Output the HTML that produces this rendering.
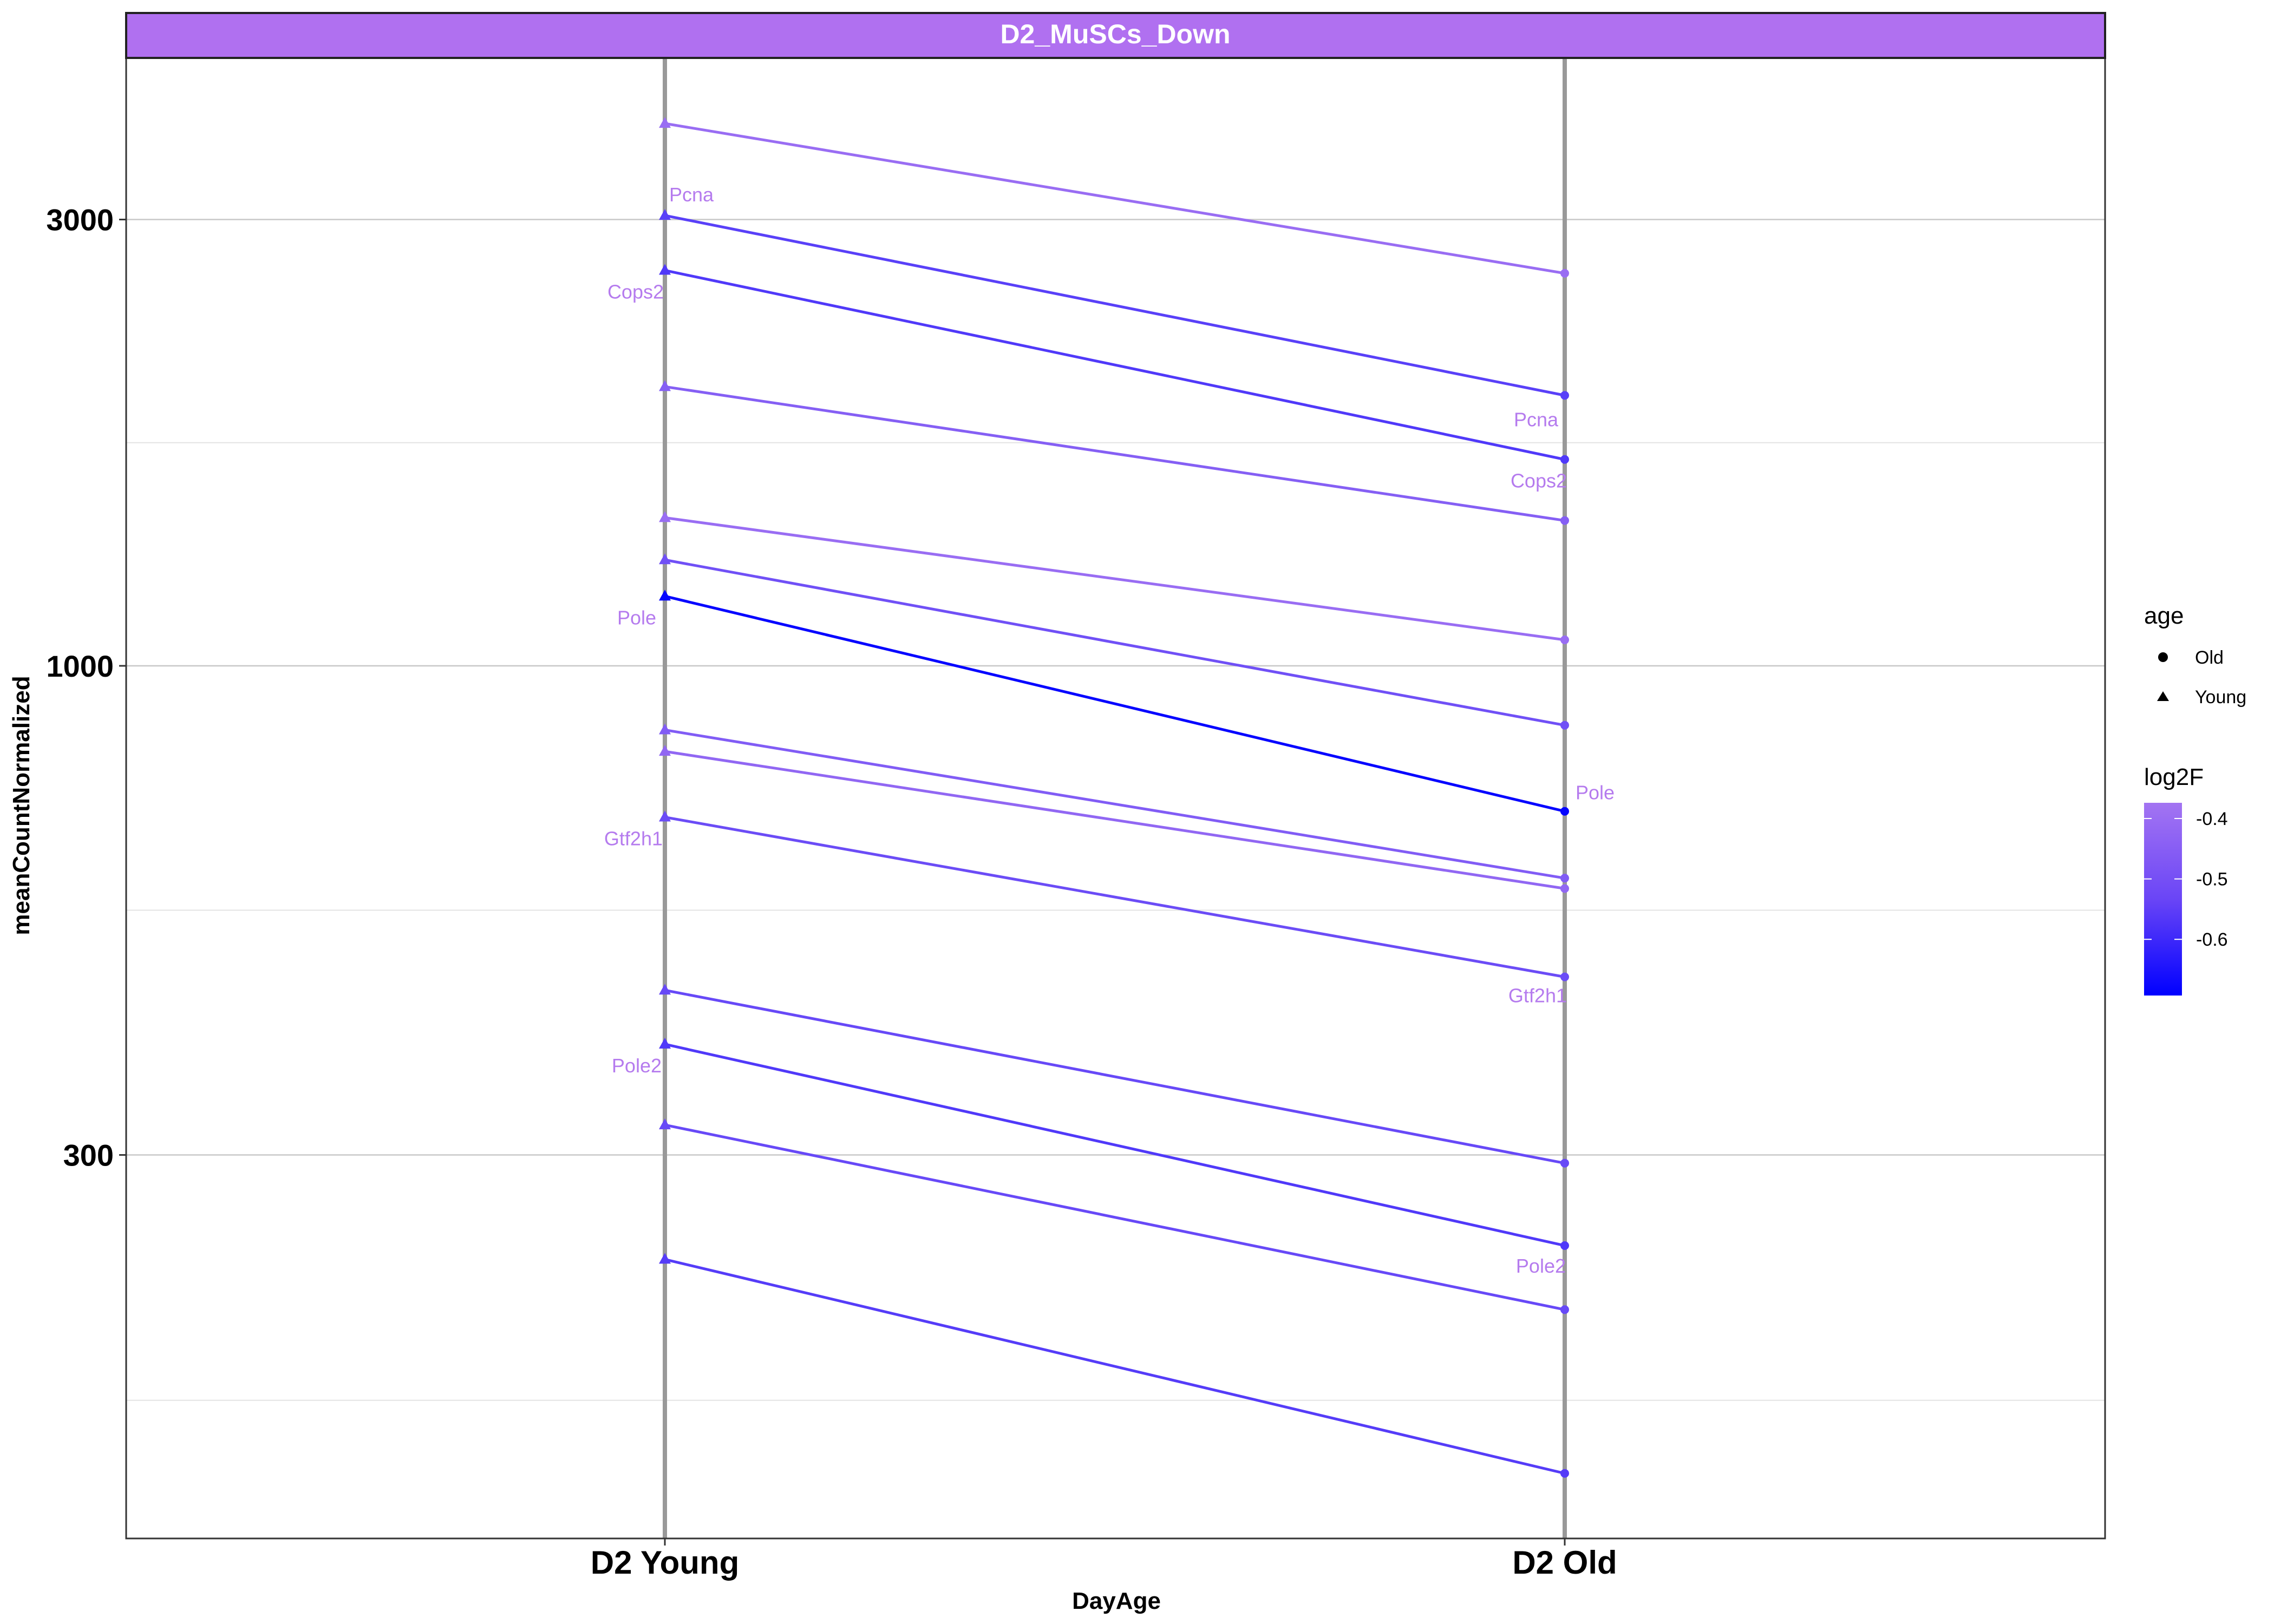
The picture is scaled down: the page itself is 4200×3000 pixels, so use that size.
<!DOCTYPE html>
<html><head><meta charset="utf-8"><style>
html,body{margin:0;padding:0;background:#fff}
svg{display:block}
text{font-family:"Liberation Sans",Arial,sans-serif}
</style></head><body>
<svg id="chart" width="4200" height="3000" viewBox="0 0 4200 3000">
<g id="grid"></g>
<g id="axes"></g>
<g id="marks"></g>
<g id="labels"></g>
<rect x="233" y="107" width="3655" height="2735" fill="none" stroke="#333" stroke-width="3"/>
<rect x="233" y="24" width="3655" height="83" fill="#b070f0" stroke="#222" stroke-width="4"/>
<text x="2060" y="80" text-anchor="middle" font-size="50" font-weight="bold" fill="#fff">D2_MuSCs_Down</text>
<text x="2062" y="2972" text-anchor="middle" font-size="44" font-weight="bold">DayAge</text>
<text transform="translate(54,1488) rotate(-90)" text-anchor="middle" font-size="44" font-weight="bold">meanCountNormalized</text>
<g>
<text x="3960" y="1152" font-size="44">age</text>
<circle cx="3995" cy="1214" r="9" fill="#000"/>
<text x="4054" y="1226" font-size="34">Old</text>
<polygon points="3984,1295 4006,1295 3995,1277" fill="#000"/>
<text x="4054" y="1299" font-size="34">Young</text>
</g>
<g>
<defs><linearGradient id="cg" x1="0" y1="0" x2="0" y2="1"><stop offset="0" stop-color="#a374f2"/><stop offset="0.5" stop-color="#6a45f6"/><stop offset="1" stop-color="#0000ff"/></linearGradient></defs>
<text x="3960" y="1450" font-size="44">log2F</text>
<rect x="3960" y="1483" width="70" height="356" fill="url(#cg)"/>
<g id="cbticks"></g>
</g>
</svg>
<script>
const youngVals=[3800,3030,2647,1988,1440,1298,1187,854,810,689,450,394,323,232];
const oldVals=[2628,1946,1662,1430,1066,864,699,593,578,465,294,240,205,137];
const log2F=[-0.40,-0.55,-0.57,-0.45,-0.40,-0.50,-0.69,-0.46,-0.42,-0.51,-0.52,-0.57,-0.52,-0.56];
const yTicks=[300,1000,3000];
const yTickLabels=["300","1000","3000"];
const yMinor=[164,548,1732];
const xCats=["D2 Young","D2 Old"];
const cbTicks=[-0.4,-0.5,-0.6];
const geneNames=["Pcna","Cops2","Pole","Gtf2h1","Pole2"];
const geneIdx=[1,2,6,9,11];

const NS="http://www.w3.org/2000/svg";
function mk(tag,attrs,parent){const e=document.createElementNS(NS,tag);for(const k in attrs)e.setAttribute(k,attrs[k]);parent.appendChild(e);return e;}
function yS(v){return 1230-1728*(Math.log10(v)-3);}
function xS(i){return 1228+1662*i;}
function cS(v){return 1483+(v-(-0.374))/(-0.693+0.374)*356;}
function col(v){let t=(v+0.693)/(0.693-0.374);t=Math.max(0,Math.min(1,t));t=Math.pow(t,0.75);
 const r=Math.round(163*t),g=Math.round(116*t),b=Math.round(255+(242-255)*t);return `rgb(${r},${g},${b})`;}
const grid=document.getElementById('grid'),axes=document.getElementById('axes'),marks=document.getElementById('marks'),labels=document.getElementById('labels');
yMinor.forEach(v=>{const l=mk('line',{x1:233,x2:3888,y1:yS(v),y2:yS(v),stroke:'#e3e3e3','stroke-width':2},grid);

});
yTicks.forEach((v,i)=>{const y=yS(v);
const g1=mk('line',{x1:233,x2:3888,y1:y,y2:y,stroke:'#c8c8c8','stroke-width':2.5},grid);


const t=mk('line',{x1:220,x2:233,y1:y,y2:y,stroke:'#333','stroke-width':3},axes);


const tx=mk('text',{x:210,y:y+20,'text-anchor':'end','font-size':56,'font-weight':'bold'},axes);tx.textContent=yTickLabels[i];

});
xCats.forEach((c,i)=>{const x=xS(i);
const v=mk('line',{x1:x,x2:x,y1:107,y2:2842,stroke:'#999','stroke-width':8},grid);


const t=mk('line',{x1:x,x2:x,y1:2842,y2:2855,stroke:'#333','stroke-width':3},axes);


const tx=mk('text',{x:x,y:2907,'text-anchor':'middle','font-size':60,'font-weight':'bold'},axes);tx.textContent=c;

});
youngVals.forEach((yv,i)=>{const c=col(log2F[i]);const x0=xS(0),x1=xS(1),y0=yS(yv),y1=yS(oldVals[i]);
const l=mk('line',{x1:x0,y1:y0,x2:x1,y2:y1,stroke:c,'stroke-width':5},marks);


const p=mk('polygon',{points:`${x0-11},${y0+8} ${x0+11},${y0+8} ${x0},${y0-12}`,fill:c},marks);


const o=mk('circle',{cx:x1,cy:y1,r:8,fill:c},marks);

});
const yOff=[[-38,'start',8],[40,'end',-2],[40,'end',-16],[40,'end',-4],[40,'end',-6]];
const oOff=[[45,'end',-12],[40,'end',4],[-34,'start',20],[35,'end',4],[38,'end',2]];
geneIdx.forEach((gi,k)=>{const c='#b57bee';
let t=mk('text',{x:xS(0)+yOff[k][2],y:yS(youngVals[gi])+yOff[k][0]+12,'text-anchor':yOff[k][1],'font-size':36,fill:c},labels);t.textContent=geneNames[k];


t=mk('text',{x:xS(1)+oOff[k][2],y:yS(oldVals[gi])+oOff[k][0]+12,'text-anchor':oOff[k][1],'font-size':36,fill:c},labels);t.textContent=geneNames[k];

});
const cbt=document.getElementById('cbticks');
cbTicks.forEach(v=>{const y=cS(v);
mk('line',{x1:3960,x2:3974,y1:y,y2:y,stroke:'#fff','stroke-width':2},cbt);
mk('line',{x1:4016,x2:4030,y1:y,y2:y,stroke:'#fff','stroke-width':2},cbt);
const t=mk('text',{x:4056,y:y+12,'font-size':34},cbt);t.textContent=v.toFixed(1);

});
</script>
</body></html>
